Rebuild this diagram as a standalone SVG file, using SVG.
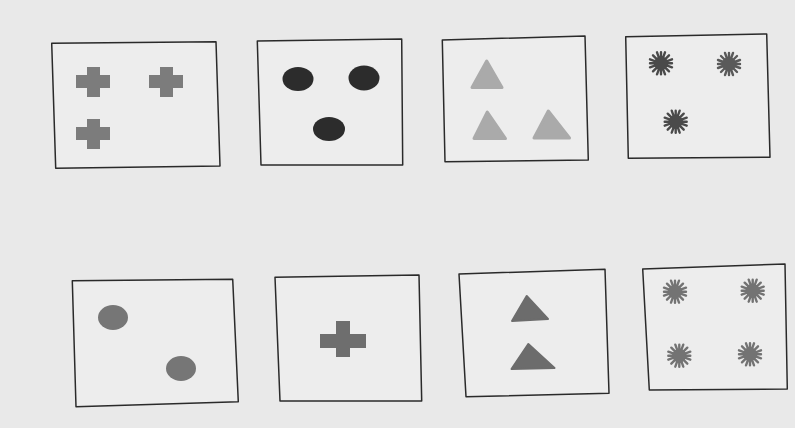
<svg xmlns="http://www.w3.org/2000/svg" width="795" height="428" viewBox="0 0 795 428">
<style>
.box{fill:#ededed;stroke:#2a2a2a;stroke-width:1.5;stroke-linejoin:round}
.crossA{fill:#7c7c7c}
.crossB{fill:#6e6e6e}
.oval{fill:#2c2c2c}
.triA{fill:#aaaaaa;stroke:#aaaaaa;stroke-width:3;stroke-linejoin:round}
.triB{fill:#6c6c6c;stroke:#6c6c6c;stroke-width:2;stroke-linejoin:round}
.dot{fill:#767676}
</style>
<defs>
<g id="cross">
<path d="M-6,-15 H7 V-7 H17 V6 H7 V15 H-6 V6 H-17 V-7 H-6 Z"/>
</g>
<g id="star">
<path d="M0,-11 L0,11 M-11,0 L11,0 M-8,-8 L8,8 M-8,8 L8,-8 M-4,-11 L4,11 M-11,-4 L11,4 M-11,4 L11,-4 M-4,11 L4,-11" stroke-width="2.4" stroke-linecap="round"/>
<circle r="6.5"/>
</g>
</defs>
<rect width="795" height="428" fill="#e9e9e9"/>
<g id="connectors"/>
<g id="node-crosses-3">
<polygon class="box" points="51.7,43.3 216,41.7 220,166 55.7,168.3"/>
<use href="#cross" class="crossA" x="93" y="82"/>
<use href="#cross" class="crossA" x="166" y="82"/>
<use href="#cross" class="crossA" x="93" y="134"/>
</g>
<g id="node-ovals-3">
<polygon class="box" points="257.3,41 401.7,39 402.7,165 261,165"/>
<ellipse class="oval" cx="298" cy="79" rx="15.5" ry="12"/>
<ellipse class="oval" cx="364" cy="78" rx="15.5" ry="12.5"/>
<ellipse class="oval" cx="329" cy="129" rx="16" ry="12"/>
</g>
<g id="node-triangles-3">
<polygon class="box" points="442.3,40 585,36 588.3,160 445,161.7"/>
<polygon class="triA" points="486.7,61 472,87.5 502,87.5"/>
<polygon class="triA" points="487.3,112 474,138.5 505.5,138.5"/>
<polygon class="triA" points="548.3,111 534,138 569.5,138"/>
</g>
<g id="node-stars-3">
<polygon class="box" points="625.7,36.7 766.7,34 770,157.3 628.3,158.3"/>
<use href="#star" fill="#4a4a4a" stroke="#4a4a4a" x="661" y="63.3"/>
<use href="#star" fill="#5a5a5a" stroke="#5a5a5a" x="729" y="64"/>
<use href="#star" fill="#4a4a4a" stroke="#4a4a4a" x="675.7" y="121.7"/>
</g>
<g id="node-circles-2">
<polygon class="box" points="72.3,280.7 232.7,279.3 238.3,401.7 76,406.7"/>
<ellipse class="dot" cx="113" cy="317.5" rx="15" ry="12.5"/>
<ellipse class="dot" cx="181" cy="368.5" rx="15" ry="12.5"/>
</g>
<g id="node-cross-1">
<polygon class="box" points="275,277.3 419,275 421.7,401 280,401"/>
<path class="crossB" d="M336,321 H350 V334 H366 V348 H350 V357 H336 V348 H320 V334 H336 Z"/>
</g>
<g id="node-triangles-2">
<polygon class="box" points="459,274 605,269.3 609,393.3 466,396.7"/>
<polygon class="triB" points="526.7,296 512,321 548,319"/>
<polygon class="triB" points="528.3,344 511.5,369 554.5,368"/>
</g>
<g id="node-stars-4">
<polygon class="box" points="642.7,269 785,264 787.3,389 649.3,390"/>
<use href="#star" fill="#737373" stroke="#737373" x="675" y="291.7"/>
<use href="#star" fill="#737373" stroke="#737373" x="752.7" y="290.7"/>
<use href="#star" fill="#737373" stroke="#737373" x="679.3" y="355.7"/>
<use href="#star" fill="#737373" stroke="#737373" x="750" y="354.3"/>
</g>
</svg>
